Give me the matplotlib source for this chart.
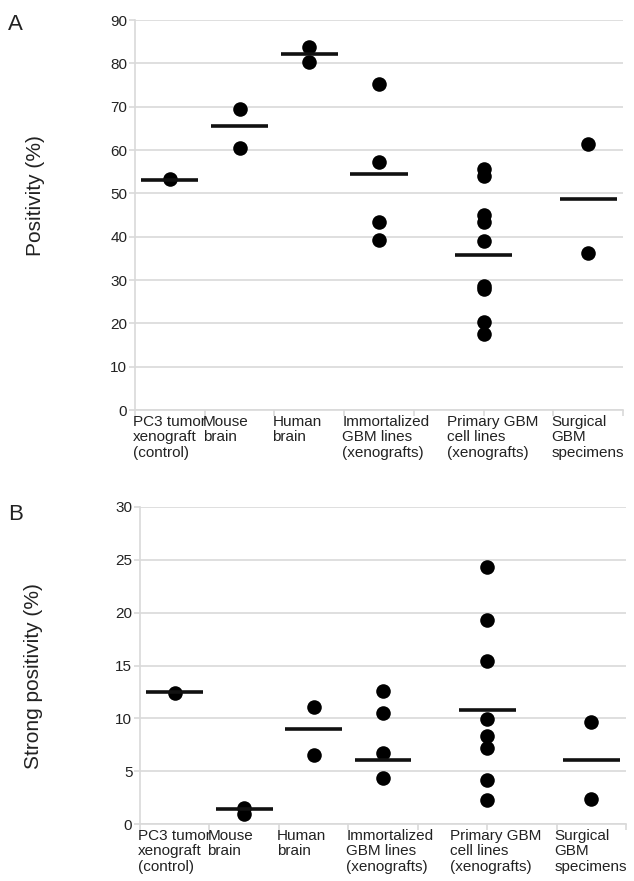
import matplotlib
matplotlib.use('Agg')
import matplotlib.pyplot as plt
import numpy as np

plt.rcParams['font.family'] = ['Liberation Sans', 'DejaVu Sans']

categories = ['PC3 tumor\nxenograft\n(control)', 'Mouse\nbrain', 'Human\nbrain',
              'Immortalized\nGBM lines\n(xenografts)', 'Primary GBM\ncell lines\n(xenografts)',
              'Surgical\nGBM\nspecimens']
# x position of each group on the 7-slot category axis
cat_pos = [0.5, 1.5, 2.5, 3.5, 5.0, 6.5]

# panel A: positivity (%)
pos_pc3 = [53.2]
pos_mouse = [69.4, 60.5]
pos_human = [83.7, 80.4]
pos_immort = [75.2, 57.2, 43.4, 39.2]
pos_primary = [55.7, 53.9, 44.9, 43.4, 38.9, 28.7, 28.0, 20.3, 17.5]
pos_surgical = [61.5, 36.2]
pos_lines = [53.1, 65.6, 82.1, 54.5, 35.7, 48.7]

# panel B: strong positivity (%)
str_pc3 = [12.4]
str_mouse = [1.5, 0.9]
str_human = [11.1, 6.5]
str_immort = [12.6, 10.5, 6.7, 4.4]
str_primary = [24.3, 19.3, 15.4, 9.9, 8.3, 7.2, 4.2, 2.3]
str_surgical = [9.7, 2.4]
str_lines = [12.5, 1.4, 9.0, 6.1, 10.8, 6.1]

grey = '#d9d9d9'
txt = '#222222'

fig = plt.figure(figsize=(6.34, 8.81), dpi=100)
axA = fig.add_axes([135/634, 1-410/881, 488/634, 390/881])
axB = fig.add_axes([140/634, 1-824/881, 486/634, 317/881])


def draw(ax, groups, lines, ymax, ystep, ylabel, lab_xy):
    for x, vals in zip(cat_pos, groups):
        ax.scatter([x]*len(vals), vals, s=110, color='black', zorder=3, linewidths=0)
    ax.hlines(lines, np.array(cat_pos) - 0.41, np.array(cat_pos) + 0.41,
              color='#111111', linewidth=2.6, zorder=4)
    ax.set_xlim(0, 7)
    ax.set_ylim(0, ymax)
    ax.set_yticks(np.arange(0, ymax + 1, ystep))
    ax.set_xticks(np.arange(0, 8))
    ax.set_xticklabels([])
    ax.grid(axis='y', color=grey, linewidth=1.2, zorder=0)
    ax.set_axisbelow(True)
    for s in ['top', 'right']:
        ax.spines[s].set_visible(False)
    for s in ['left', 'bottom']:
        ax.spines[s].set_color(grey)
        ax.spines[s].set_linewidth(1.2)
    ax.tick_params(axis='both', colors=grey, length=4, width=1.2, labelsize=11,
                   labelcolor=txt, pad=1.5)
    for x, lab in zip(cat_pos, categories):
        ax.annotate(lab, xy=(x - 0.5, 0), xycoords=('data', 'axes fraction'),
                    xytext=(-2, -5), textcoords='offset pixels', ha='left', va='top',
                    fontsize=11, color=txt, linespacing=1.12, annotation_clip=False)
    ax.set_ylabel(ylabel, fontsize=15, color=txt)
    ax.yaxis.set_label_coords(*lab_xy)


draw(axA, [pos_pc3, pos_mouse, pos_human, pos_immort, pos_primary, pos_surgical],
     pos_lines, 90, 10, 'Positivity (%)', (-0.184, 0.55))
draw(axB, [str_pc3, str_mouse, str_human, str_immort, str_primary, str_surgical],
     str_lines, 30, 5, 'Strong positivity (%)', (-0.2, 0.467))

fig.text(15/634, 1-25/881, 'A', fontsize=16, color=txt, ha='center', va='center')
fig.text(16/634, 1-515/881, 'B', fontsize=16, color=txt, ha='center', va='center')

fig.savefig('out.png', dpi=100)
